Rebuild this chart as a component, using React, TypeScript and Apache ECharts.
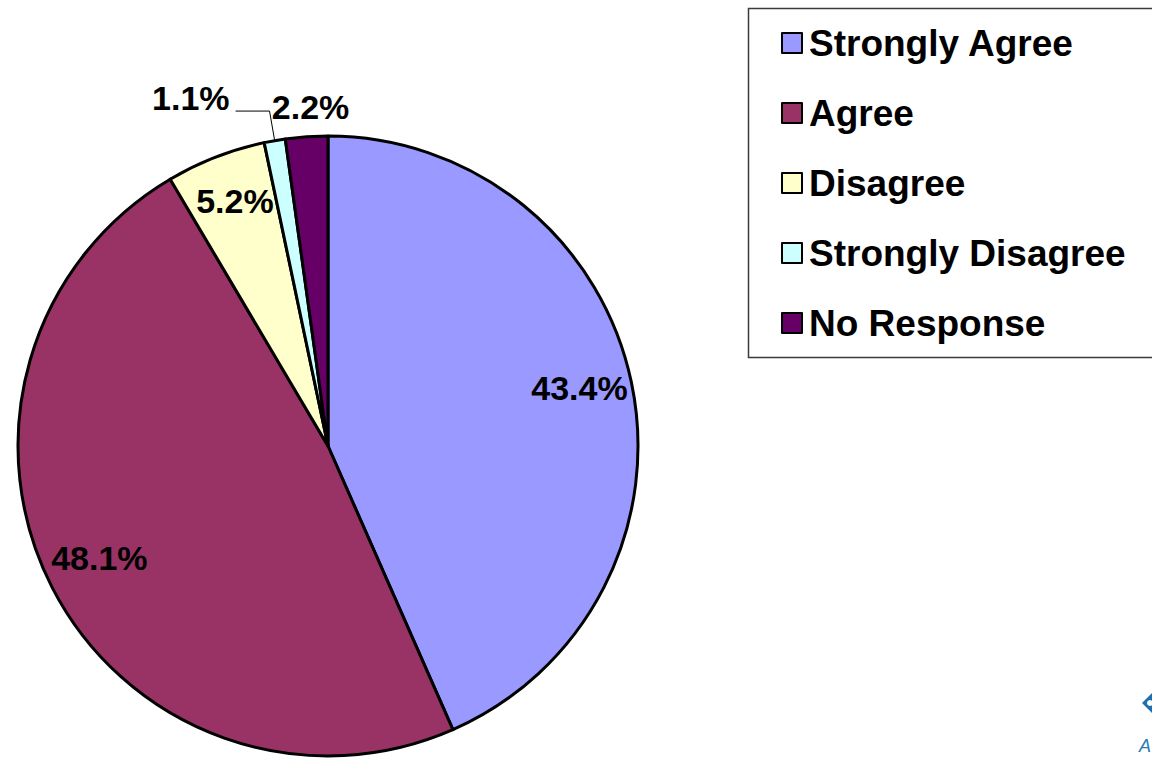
import React, { useEffect, useRef } from "react";
import * as echarts from "echarts";

// Survey responses (percent of respondents)
const categories = ["Strongly Agree", "Agree", "Disagree", "Strongly Disagree", "No Response"];
const values = [43.4, 48.1, 5.2, 1.1, 2.2];
const colors = ["#9999FF", "#993366", "#FFFFCC", "#CCFFFF", "#660066"];

// Which label ring each slice uses: inner (inside the slice), line (leader line), outer (just above the rim)
const labelPlacement = ["inner", "inner", "inner", "line", "outer"];

const FONT = "'Liberation Sans', Arial, sans-serif";
const CX = 328;
const CY = 446;
const R = 310;

const fmt = (v: number) => `${v.toFixed(1)}%`;

export default function App() {
  const ref = useRef<HTMLDivElement>(null);

  useEffect(() => {
    if (!ref.current) return;
    const chart = echarts.init(ref.current, undefined, { renderer: "svg" });

    const labelStyle = {
      color: "#000",
      fontFamily: FONT,
      fontWeight: "bold" as const,
      fontSize: 34,
      formatter: (p: any) => fmt(p.value),
    };

    const mainData = categories.map((name, i) => ({
      name,
      value: values[i],
      itemStyle: { color: colors[i] },
      label:
        labelPlacement[i] === "line"
          ? { show: true, position: "outside", offset: [0, -13], distanceToLabelLine: 6 }
          : { show: false },
      labelLine:
        labelPlacement[i] === "line"
          ? { show: true, length: 30, length2: 34, lineStyle: { color: "#000", width: 1 } }
          : { show: false },
    }));

    const overlayData = (ring: string) =>
      categories.map((name, i) => ({
        name,
        value: values[i],
        label: { show: labelPlacement[i] === ring },
      }));

    const overlayBase = {
      type: "pie" as const,
      center: [CX, CY],
      silent: true,
      legendHoverLink: false,
      startAngle: 90,
      clockwise: true,
      itemStyle: { color: "rgba(0,0,0,0)", borderWidth: 0 },
      labelLine: { show: false },
      emphasis: { disabled: true },
    };

    chart.setOption({
      animation: false,
      backgroundColor: "#fff",
      legend: {
        orient: "vertical",
        left: 776,
        top: 18,
        data: categories,
        selectedMode: false,
        icon: "rect",
        itemWidth: 20,
        itemHeight: 20,
        itemGap: 30,
        itemStyle: { borderColor: "#000", borderWidth: 2 },
        textStyle: {
          color: "#000",
          fontFamily: FONT,
          fontWeight: "bold",
          fontSize: 37,
          lineHeight: 40,
          padding: [0, 0, 0, 2],
        },
      },
      graphic: [
        {
          type: "rect",
          z: 0,
          shape: { x: 748.5, y: 8.5, width: 460, height: 349 },
          style: { fill: "none", stroke: "#3a3a3a", lineWidth: 1.5 },
        },
        {
          type: "polygon",
          shape: { points: [[1142, 703], [1153, 692], [1164, 703], [1153, 714]] },
          style: { fill: "#1f6fae" },
        },
        {
          type: "circle",
          shape: { cx: 1150, cy: 703, r: 3 },
          style: { fill: "#ffffff" },
        },
        {
          type: "text",
          x: 1139,
          y: 737,
          style: {
            text: "A",
            fill: "#2a78b4",
            font: `italic 18px ${FONT}`,
          },
        },
      ],
      series: [
        {
          type: "pie",
          name: "Responses",
          center: [CX, CY],
          radius: R,
          startAngle: 90,
          clockwise: true,
          avoidLabelOverlap: false,
          itemStyle: { borderColor: "#000", borderWidth: 3 },
          label: { ...labelStyle },
          emphasis: { disabled: true },
          data: mainData,
        },
        {
          ...overlayBase,
          name: "inner labels",
          radius: [198, R],
          label: { ...labelStyle, position: "inside", offset: [0, -5] },
          data: overlayData("inner"),
        },
        {
          ...overlayBase,
          name: "outer labels",
          radius: [R, 364],
          label: { ...labelStyle, position: "inside", offset: [6, 0] },
          data: overlayData("outer"),
        },
      ],
    });

    return () => chart.dispose();
  }, []);

  return (
    <div
      ref={ref}
      style={{ position: "fixed", left: 0, top: 0, width: 1152, height: 759 }}
    />
  );
}
